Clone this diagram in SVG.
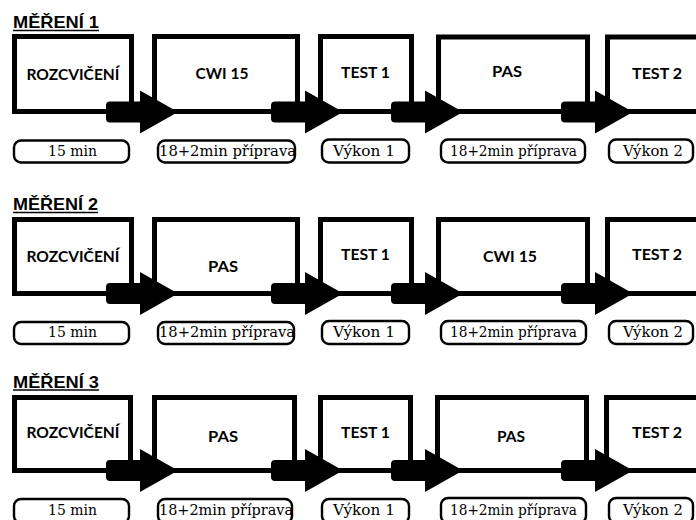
<svg xmlns="http://www.w3.org/2000/svg" width="696" height="520" viewBox="0 0 696 520">
<style>
.bg{fill:#fff}
.box{fill:#fff;stroke:#000;stroke-width:5}
.lbl{fill:#fff;stroke:#000;stroke-width:2.4}
.bt{font-family:Lato,"Open Sans",sans-serif;font-weight:bold;font-size:14.5px;fill:#000;text-anchor:middle}
.lt{font-family:"DejaVu Serif","Liberation Serif",serif;font-size:14px;fill:#000;text-anchor:middle}
.tt{font-family:"Liberation Sans",Arial,sans-serif;font-weight:bold;font-size:16px;fill:#000}
.ul{stroke:#000;stroke-width:1.7}
.arr{fill:#000}
</style>
<defs>
<path id="arrow" d="M0 -10.5 L0 -21.5 L38 0 L0 21.5 L0 10.5 L-30 10.5 Q-34 10.5 -34 6.5 L-34 -6.5 Q-34 -10.5 -30 -10.5 Z"/>
</defs>
<rect class="bg" x="0" y="0" width="696" height="520"/>

<!-- Row 1 -->
<g id="title1"><text class="tt" x="13" y="28" textLength="86" lengthAdjust="spacingAndGlyphs">MĚŘENÍ 1</text><line class="ul" x1="13" y1="30.5" x2="99" y2="30.5"/></g>
<g id="r1b1"><rect class="box" x="14.5" y="36.5" width="117" height="75"/><text class="bt" x="73" y="80" textLength="93" lengthAdjust="spacingAndGlyphs">ROZCVIČENÍ</text></g>
<g id="r1b2"><rect class="box" x="154.5" y="36.5" width="143" height="75"/><text class="bt" x="222" y="79" textLength="53" lengthAdjust="spacingAndGlyphs">CWI 15</text></g>
<g id="r1b3"><rect class="box" x="320.5" y="36.5" width="91" height="75"/><text class="bt" x="365.5" y="78" textLength="49" lengthAdjust="spacingAndGlyphs">TEST 1</text></g>
<g id="r1b4"><rect class="box" x="438.5" y="37" width="149" height="74.5"/><text class="bt" x="507" y="77" textLength="30" lengthAdjust="spacingAndGlyphs">PAS</text></g>
<g id="r1b5"><rect class="box" x="607.5" y="37" width="100" height="74.5"/><text class="bt" x="657" y="79" textLength="50" lengthAdjust="spacingAndGlyphs">TEST 2</text></g>

<g id="r1l1"><rect class="lbl" x="14" y="140.5" width="115" height="22" rx="7"/><text class="lt" x="72.5" y="156" textLength="49" lengthAdjust="spacingAndGlyphs">15 min</text></g>
<g id="r1l2"><rect class="lbl" x="158" y="140.5" width="137" height="22" rx="7"/><text class="lt" x="227.5" y="156" textLength="137" lengthAdjust="spacingAndGlyphs">18+2min příprava</text></g>
<g id="r1l3"><rect class="lbl" x="322" y="139.5" width="87" height="23" rx="7"/><text class="lt" x="364" y="156" textLength="62" lengthAdjust="spacingAndGlyphs">Výkon 1</text></g>
<g id="r1l4"><rect class="lbl" x="441" y="139.5" width="144" height="23" rx="7"/><text class="lt" x="513.5" y="156" textLength="127" lengthAdjust="spacingAndGlyphs">18+2min příprava</text></g>
<g id="r1l5"><rect class="lbl" x="609" y="139.5" width="84" height="23" rx="7"/><text class="lt" x="653" y="156" textLength="60" lengthAdjust="spacingAndGlyphs">Výkon 2</text></g>

<!-- Row 2 -->
<g id="title2"><text class="tt" x="13" y="210" textLength="85" lengthAdjust="spacingAndGlyphs">MĚŘENÍ 2</text><line class="ul" x1="13" y1="212.5" x2="98" y2="212.5"/></g>
<g id="r2b1"><rect class="box" x="14.5" y="219.5" width="117" height="74"/><text class="bt" x="73" y="262" textLength="93" lengthAdjust="spacingAndGlyphs">ROZCVIČENÍ</text></g>
<g id="r2b2"><rect class="box" x="154.5" y="219.5" width="143" height="74"/><text class="bt" x="223" y="272" textLength="30" lengthAdjust="spacingAndGlyphs">PAS</text></g>
<g id="r2b3"><rect class="box" x="320.5" y="219.5" width="91" height="74"/><text class="bt" x="365.5" y="260" textLength="49" lengthAdjust="spacingAndGlyphs">TEST 1</text></g>
<g id="r2b4"><rect class="box" x="438.5" y="219.5" width="149" height="74"/><text class="bt" x="510" y="262" textLength="54" lengthAdjust="spacingAndGlyphs">CWI 15</text></g>
<g id="r2b5"><rect class="box" x="607.5" y="219.5" width="100" height="74"/><text class="bt" x="657" y="260" textLength="50" lengthAdjust="spacingAndGlyphs">TEST 2</text></g>

<g id="r2l1"><rect class="lbl" x="14" y="322" width="115" height="22" rx="7"/><text class="lt" x="72.5" y="337" textLength="49" lengthAdjust="spacingAndGlyphs">15 min</text></g>
<g id="r2l2"><rect class="lbl" x="158" y="322" width="136" height="22" rx="7"/><text class="lt" x="227" y="337" textLength="136" lengthAdjust="spacingAndGlyphs">18+2min příprava</text></g>
<g id="r2l3"><rect class="lbl" x="322" y="321" width="87" height="23" rx="7"/><text class="lt" x="364" y="337" textLength="62" lengthAdjust="spacingAndGlyphs">Výkon 1</text></g>
<g id="r2l4"><rect class="lbl" x="441" y="321" width="145" height="23" rx="7"/><text class="lt" x="513.5" y="337" textLength="127" lengthAdjust="spacingAndGlyphs">18+2min příprava</text></g>
<g id="r2l5"><rect class="lbl" x="609" y="321" width="84" height="23" rx="7"/><text class="lt" x="653" y="337" textLength="60" lengthAdjust="spacingAndGlyphs">Výkon 2</text></g>

<!-- Row 3 -->
<g id="title3"><text class="tt" x="13" y="387.5" textLength="86" lengthAdjust="spacingAndGlyphs">MĚŘENÍ 3</text><line class="ul" x1="13" y1="390" x2="99" y2="390"/></g>
<g id="r3b1"><rect class="box" x="14.5" y="397.5" width="116" height="73"/><text class="bt" x="73" y="438" textLength="93" lengthAdjust="spacingAndGlyphs">ROZCVIČENÍ</text></g>
<g id="r3b2"><rect class="box" x="154.5" y="397.5" width="140" height="73"/><text class="bt" x="223" y="442" textLength="30" lengthAdjust="spacingAndGlyphs">PAS</text></g>
<g id="r3b3"><rect class="box" x="320.5" y="397.5" width="90" height="73"/><text class="bt" x="365.5" y="438" textLength="49" lengthAdjust="spacingAndGlyphs">TEST 1</text></g>
<g id="r3b4"><rect class="box" x="437.5" y="397.5" width="149" height="73"/><text class="bt" x="511" y="442" textLength="28" lengthAdjust="spacingAndGlyphs">PAS</text></g>
<g id="r3b5"><rect class="box" x="606.5" y="397.5" width="100" height="73"/><text class="bt" x="657" y="438" textLength="50" lengthAdjust="spacingAndGlyphs">TEST 2</text></g>

<g id="r3l1"><rect class="lbl" x="14" y="499" width="115" height="24" rx="7"/><text class="lt" x="72.5" y="515" textLength="49" lengthAdjust="spacingAndGlyphs">15 min</text></g>
<g id="r3l2"><rect class="lbl" x="158" y="499" width="134" height="24" rx="7"/><text class="lt" x="226" y="515" textLength="134" lengthAdjust="spacingAndGlyphs">18+2min příprava</text></g>
<g id="r3l3"><rect class="lbl" x="322" y="499" width="87" height="24" rx="7"/><text class="lt" x="364" y="515" textLength="62" lengthAdjust="spacingAndGlyphs">Výkon 1</text></g>
<g id="r3l4"><rect class="lbl" x="441" y="498" width="145" height="25" rx="7"/><text class="lt" x="513.5" y="515" textLength="127" lengthAdjust="spacingAndGlyphs">18+2min příprava</text></g>
<g id="r3l5"><rect class="lbl" x="609" y="498" width="84" height="25" rx="7"/><text class="lt" x="653" y="515" textLength="60" lengthAdjust="spacingAndGlyphs">Výkon 2</text></g>

<!-- Connectors -->
<g id="connectors" class="arr">
<use href="#arrow" x="140" y="112"/>
<use href="#arrow" x="305" y="112"/>
<use href="#arrow" x="425" y="112"/>
<use href="#arrow" x="595" y="112"/>
<use href="#arrow" x="140" y="293.5"/>
<use href="#arrow" x="305" y="293.5"/>
<use href="#arrow" x="425" y="293.5"/>
<use href="#arrow" x="595" y="293.5"/>
<use href="#arrow" x="140" y="470.5"/>
<use href="#arrow" x="305" y="470.5"/>
<use href="#arrow" x="425" y="470.5"/>
<use href="#arrow" x="595" y="470.5"/>
</g>
</svg>
